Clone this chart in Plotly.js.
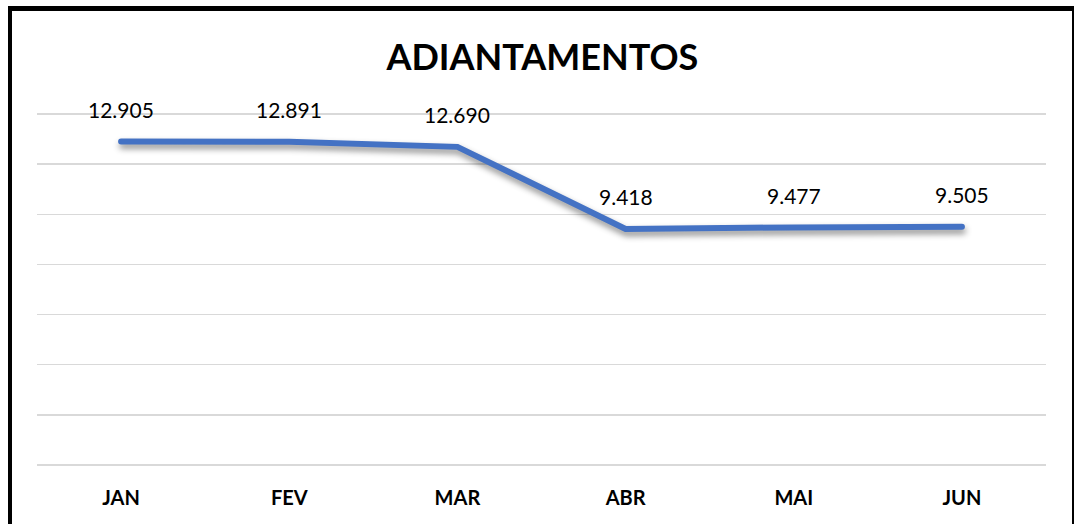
<!DOCTYPE html>
<html>
<head>
<meta charset="utf-8">
<script src="https://cdn.plot.ly/plotly-3.0.1.min.js"></script>
<style>
  body { margin: 0; overflow: hidden; background: #fff; }
  #chart { position: absolute; left: 0; top: 0; width: 1074px; height: 524px; }
  #frame { position: absolute; left: 8px; top: 6px; width: 1060px; height: 540px;
           border-style: solid; border-color: #000; border-width: 5px 2px 0 4px;
           pointer-events: none; }
  .scatterlayer .js-line { filter: drop-shadow(1px 4px 3px rgba(0,0,0,0.45)); stroke-linecap: round; }
</style>
</head>
<body>
<div id="chart"></div>
<div id="frame"></div>
<script>
// monthly values
const months = ["JAN", "FEV", "MAR", "ABR", "MAI", "JUN"];
const adiantamentos = [12905, 12891, 12690, 9418, 9477, 9505];

// 12905 -> "12.905"
function fmt(v) {
  return String(v).replace(/\B(?=(\d{3})+(?!\d))/g, ".");
}

const trace = {
  x: months,
  y: adiantamentos,
  mode: "lines",
  type: "scatter",
  line: { color: "#4472C4", width: 6 },
  hoverinfo: "skip",
};

const labels = months.map((m, i) => ({
  x: m,
  y: adiantamentos[i],
  text: fmt(adiantamentos[i]),
  showarrow: false,
  yshift: 32,
  font: { family: "Lato, 'Liberation Sans', sans-serif", size: 21, color: "#000" },
}));

const layout = {
  width: 1074,
  height: 524,
  margin: { l: 37, r: 28, t: 109, b: 59 },
  paper_bgcolor: "#fff",
  plot_bgcolor: "#fff",
  showlegend: false,
  title: {
    text: "<b>ADIANTAMENTOS</b>",
    x: 0.505,
    xanchor: "center",
    y: 0.89,
    yanchor: "middle",
    font: { family: "Lato, 'Liberation Sans', sans-serif", size: 36, color: "#000" },
  },
  xaxis: {
    range: [-0.5, 5.5],
    showgrid: false,
    zeroline: false,
    showline: false,
    ticks: "",
    ticklabelstandoff: 19,
    tickfont: { family: "Lato, 'Liberation Sans', sans-serif", size: 20, color: "#000", weight: "bold" },
  },
  yaxis: {
    range: [0, 14200],
    dtick: 2000,
    showticklabels: false,
    showgrid: true,
    gridcolor: "#d9d9d9",
    gridwidth: 1.5,
    zeroline: true,
    zerolinecolor: "#d9d9d9",
    zerolinewidth: 2,
    ticks: "",
  },
  annotations: labels,
};

Plotly.newPlot("chart", [trace], layout, { displayModeBar: false, staticPlot: true });
</script>
</body>
</html>
